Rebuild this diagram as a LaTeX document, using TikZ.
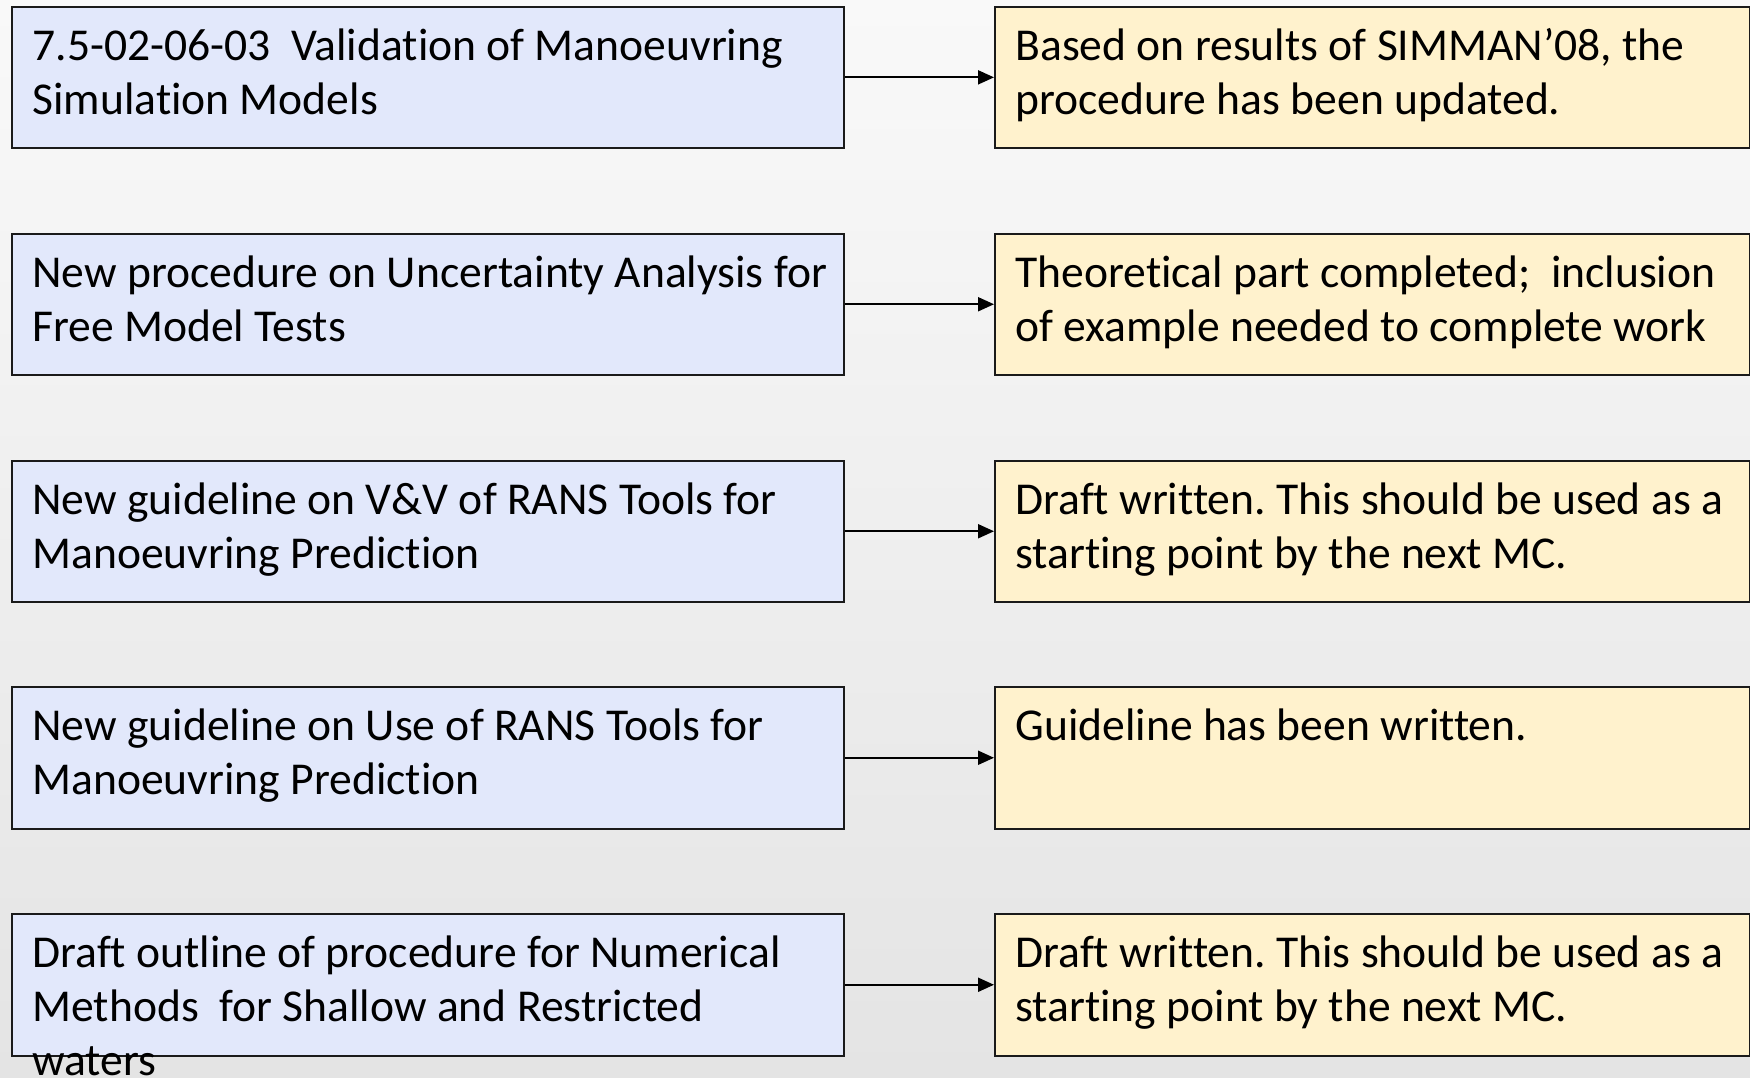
\documentclass[tikz,border=0pt]{standalone}
\usepackage{fontspec}
\setmainfont{Carlito}[Ligatures=NoCommon]
\usetikzlibrary{arrows.meta}
\frenchspacing

\definecolor{bgtop}{HTML}{F9F9F9}
\definecolor{bgbot}{HTML}{E4E4E4}
\definecolor{taskfill}{HTML}{E2E8FB}
\definecolor{statusfill}{HTML}{FFF2CD}
\definecolor{edge}{HTML}{1A1A1A}

\begin{document}
\begin{tikzpicture}[x=0.5pt,y=-0.5pt,
  box/.style={draw=edge, line width=1pt, inner sep=0pt, anchor=north west,
    minimum height=70.75pt},
  taskbox/.style={box, fill=taskfill, minimum width=416pt},
  statusbox/.style={box, fill=statusfill, minimum width=377.5pt},
  txt/.style={inner sep=0pt, anchor=north west, align=left,
    font=\fontsize{22.8}{26.8}\selectfont},
  arr/.style={line width=1pt, -{Triangle[length=8pt,width=7pt]}}
]
% backdrop
\shade[top color=bgtop, bottom color=bgbot] (0,0) rectangle (1750,1077);
\useasboundingbox (0,0) rectangle (1750,1077);

% task boxes on the left, status boxes on the right
\foreach \i/\y in {1/5.6, 2/232.5, 3/459.5, 4/686, 5/913}{
  \node[taskbox] (l\i) at (11,\y) {};
  \node[statusbox] (r\i) at (994,\y) {};
}

% texts of the task boxes
\node[txt] (lt1) at ([shift={(21,17)}]l1.north west) {\strut 7.5-02-06-03\ \ Validation of Manoeuvring\\Simulation Models};
\node[txt] (lt2) at ([shift={(21,17)}]l2.north west) {\strut New procedure on Uncertainty Analysis for\\Free Model Tests};
\node[txt] (lt3) at ([shift={(21,17)}]l3.north west) {\strut New guideline on V\&V of RANS Tools for\\Manoeuvring Prediction};
\node[txt] (lt4) at ([shift={(21,17)}]l4.north west) {\strut New guideline on Use of RANS Tools for\\Manoeuvring Prediction};
\node[txt] (lt5) at ([shift={(21,17)}]l5.north west) {\strut Draft outline of procedure for Numerical\\Methods\ \ for Shallow and Restricted\\waters};

% texts of the status boxes
\node[txt] (rt1) at ([shift={(21,17)}]r1.north west) {\strut Based on results of SIMMAN’08, the\\procedure has been updated.};
\node[txt] (rt2) at ([shift={(21,17)}]r2.north west) {\strut Theoretical part completed;\ \ inclusion\\of example needed to complete work};
\node[txt] (rt3) at ([shift={(21,17)}]r3.north west) {\strut Draft written. This should be used as a\\starting point by the next MC.};
\node[txt] (rt4) at ([shift={(21,17)}]r4.north west) {\strut Guideline has been written.};
\node[txt] (rt5) at ([shift={(21,17)}]r5.north west) {\strut Draft written. This should be used as a\\starting point by the next MC.};

% connectors
\foreach \i in {1,...,5}{
  \draw[arr] (l\i.east) -- (r\i.west);
}
\end{tikzpicture}
\end{document}
